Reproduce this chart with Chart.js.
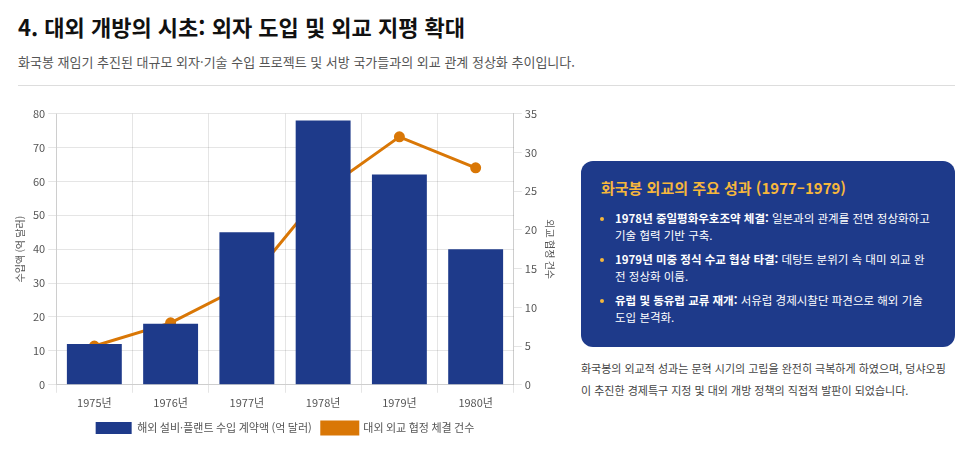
<!DOCTYPE html>
<html lang="ko">
<head>
<meta charset="utf-8">
<script src="https://cdn.jsdelivr.net/npm/chart.js@4"></script>
<style>
  body { margin: 0; background: #fff; font-family: "Noto Sans CJK KR", "Noto Sans", sans-serif; color: #222; }
  .wrap { width: 965px; padding: 0 10px 0 18px; box-sizing: border-box; }
  h1 { font-size: 22px; margin: 0; padding-top: 10px; font-weight: 700; color: #111; }
  .sub { font-size: 13px; color: #555; margin: 10px 0 0; }
  hr { border: 0; border-top: 1px solid #ddd; margin: 14px 0 0; }
  .row { display: flex; }
  .chart { position: relative; width: 550px; height: 340px; margin: 18px 0 0 -8px; }
  .side { margin-left: 21px; width: 374px; padding-top: 75px; }
  .box { background: #1e3a8a; border-radius: 12px; padding: 16px 20px 14px; color: #fff; }
  .box h3 { margin: 0 0 12px; font-size: 15px; color: #f6b73c; font-weight: 700; }
  .box ul { margin: 0; padding-left: 14px; font-size: 11.5px; line-height: 17px; }
  .box li { margin-bottom: 7px; }
  .box li::marker { color: #f6b73c; }
  .note { font-size: 11px; color: #444; line-height: 22px; margin-top: 10px; }
</style>
</head>
<body>
<div class="wrap">
  <h1>4. 대외 개방의 시초: 외자 도입 및 외교 지평 확대</h1>
  <p class="sub">화국봉 재임기 추진된 대규모 외자·기술 수입 프로젝트 및 서방 국가들과의 외교 관계 정상화 추이입니다.</p>
  <hr>
  <div class="row">
    <div class="chart"><canvas id="chart"></canvas></div>
    <div class="side">
      <div class="box">
        <h3>화국봉 외교의 주요 성과 (1977–1979)</h3>
        <ul>
          <li><b>1978년 중일평화우호조약 체결:</b> 일본과의 관계를 전면 정상화하고 기술 협력 기반 구축.</li>
          <li><b>1979년 미중 정식 수교 협상 타결:</b> 데탕트 분위기 속 대미 외교 완전 정상화 이룸.</li>
          <li><b>유럽 및 동유럽 교류 재개:</b> 서유럽 경제시찰단 파견으로 해외 기술 도입 본격화.</li>
        </ul>
      </div>
      <div class="note">화국봉의 외교적 성과는 문혁 시기의 고립을 완전히 극복하게 하였으며, 덩샤오핑이 추진한 경제특구 지정 및 대외 개방 정책의 직접적 발판이 되었습니다.</div>
    </div>
  </div>
</div>
<script>
const years = ['1975년', '1976년', '1977년', '1978년', '1979년', '1980년'];
const importValues = [12, 18, 45, 78, 62, 40];
const treatyCounts = [5, 8, 13, 25, 32, 28];

Chart.defaults.font.family = '"Noto Sans CJK KR", "Noto Sans", sans-serif';
Chart.defaults.font.size = 11;
Chart.defaults.color = '#555';

new Chart(document.getElementById('chart'), {
  type: 'bar',
  data: {
    labels: years,
    datasets: [
      { label: '해외 설비·플랜트 수입 계약액 (억 달러)', data: importValues, backgroundColor: '#1e3a8a', yAxisID: 'y', order: 1, barPercentage: 0.72, categoryPercentage: 1 },
      { type: 'line', label: '대외 외교 협정 체결 건수', data: treatyCounts, borderColor: '#d97706', backgroundColor: '#d97706', borderWidth: 3, pointRadius: 4, yAxisID: 'y1', order: 2 },
    ],
  },
  options: {
    responsive: true, maintainAspectRatio: false, animation: false,
    plugins: { legend: { position: 'bottom', labels: { boxWidth: 36, boxHeight: 12, color: '#555' } } },
    scales: {
      y: { min: 0, max: 80, ticks: { stepSize: 10 }, title: { display: true, text: '수입액 (억 달러)', font: { size: 10 } } },
      y1: { position: 'right', min: 0, max: 35, ticks: { stepSize: 5 }, grid: { drawOnChartArea: false }, title: { display: true, text: '외교 협정 건수', font: { size: 10 } } },
      x: { grid: { display: true } },
    },
  },
});
</script>
</body>
</html>
